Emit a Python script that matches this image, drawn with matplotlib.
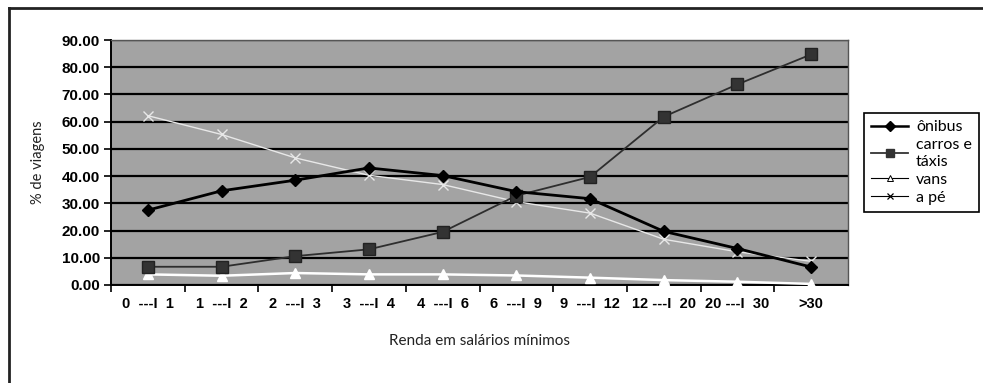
import matplotlib
matplotlib.use("Agg")
import matplotlib.pyplot as plt
from matplotlib.lines import Line2D
import numpy as np

categories = ["0  ---I  1", "1  ---I  2", "2  ---I  3", "3  ---I  4", "4  ---I  6",
              "6  ---I  9", "9  ---I  12", "12 ---I  20", "20 ---I  30", ">30"]
onibus = [27.5, 34.6, 38.5, 43.0, 40.2, 34.3, 31.7, 19.7, 13.4, 6.6]
carros = [6.7, 6.7, 10.6, 13.1, 19.5, 32.8, 39.7, 61.8, 73.7, 84.7]
vans = [3.9, 3.4, 4.4, 3.9, 3.9, 3.5, 2.7, 1.8, 1.2, 0.4]
a_pe = [62.2, 55.3, 46.7, 40.3, 36.9, 30.6, 26.4, 16.8, 12.2, 8.7]

x = np.arange(len(categories))

fig = plt.figure(figsize=(9.83, 3.83), dpi=100)
ax = fig.add_axes([111/983, 1 - 285/383, (848-111)/983, (285-40)/383])
ax.set_facecolor("#a3a3a3")

# horizontal grid lines
ax.set_ylim(0, 90)
ax.set_yticks(np.arange(0, 91, 10))
ax.set_yticklabels([f"{v:.2f}" for v in np.arange(0, 91, 10)],
                   fontsize=11, fontweight="bold", family="Liberation Sans")
ax.yaxis.grid(True, color="black", linewidth=1.6)
ax.set_axisbelow(True)

ax.set_xlim(-0.5, len(categories) - 0.5)
ax.set_xticks(x - 0.5)
ax.set_xticklabels([])
ax.set_xticks(x, minor=True)
ax.set_xticklabels(categories, minor=True, fontsize=10.5, fontweight="bold",
                   family="Liberation Sans")
ax.tick_params(axis="x", which="minor", length=0, pad=9)
ax.tick_params(axis="x", which="major", length=5, width=1.2, direction="out")
ax.tick_params(axis="y", length=5, width=1.2, direction="out", pad=3)

for s in ["left", "bottom"]:
    ax.spines[s].set_color("black")
    ax.spines[s].set_linewidth(1.4)
for s in ["top", "right"]:
    ax.spines[s].set_color("#555555")
    ax.spines[s].set_linewidth(1.0)

ax.plot(x, a_pe, color="#e8e8e8", linewidth=1.0, marker="x", markersize=7,
        markeredgewidth=1.0, zorder=3)
ax.plot(x, vans, color="white", linewidth=1.8, marker="^", markersize=7,
        markerfacecolor="white", markeredgecolor="white", zorder=3)
ax.plot(x, carros, color="#2e2e2e", linewidth=1.3, marker="s", markersize=8,
        markerfacecolor="#333333", markeredgecolor="#222222", zorder=4)
ax.plot(x, onibus, color="black", linewidth=2.0, marker="D", markersize=6.5,
        zorder=5)

ax.set_ylabel("% de viagens", fontsize=10.5, family="Lato", labelpad=12,
              color="#222222")
ax.set_xlabel("Renda em salários mínimos", fontsize=11, family="Lato",
              labelpad=16, color="#222222")

handles = [
    Line2D([], [], color="black", linewidth=1.8, marker="D", markersize=5),
    Line2D([], [], color="#333333", linewidth=1.3, marker="s", markersize=6),
    Line2D([], [], color="black", linewidth=0.8, marker="^", markersize=5,
           markerfacecolor="white", markeredgewidth=0.7),
    Line2D([], [], color="black", linewidth=0.8, marker="x", markersize=5,
           markeredgewidth=0.9),
]
labels = ["ônibus", "carros e\ntáxis", "vans", "a pé"]
leg = fig.legend(handles, labels, loc="upper left",
                 bbox_to_anchor=(864/983, 1 - 113/383), borderaxespad=0,
                 fancybox=False, framealpha=1, edgecolor="black",
                 prop={"family": "Lato", "size": 11.5}, handlelength=2.3,
                 handletextpad=0.5, labelspacing=0.25, borderpad=0.45)
leg.get_frame().set_linewidth(1.2)

# outer frame (left and top only)
fig.add_artist(Line2D([9/983, 9/983], [0, 1 - 8/383], color="#222222",
                      linewidth=2.0, transform=fig.transFigure))
fig.add_artist(Line2D([9/983, 1], [1 - 8/383, 1 - 8/383], color="#222222",
                      linewidth=2.0, transform=fig.transFigure))

fig.savefig("out.png", dpi=100)
